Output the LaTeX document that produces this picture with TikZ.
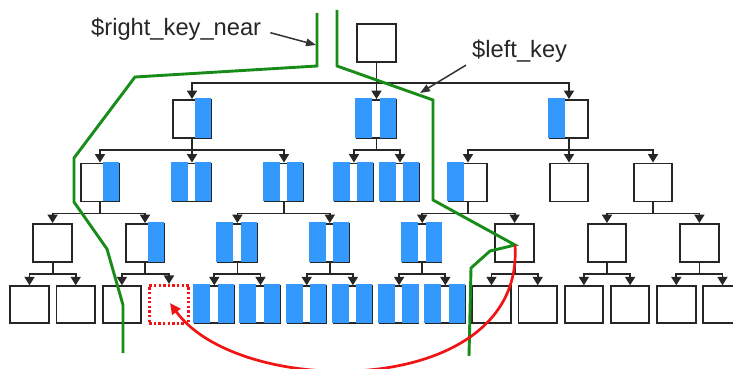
\documentclass[tikz,border=0pt]{standalone}
\usepackage{fontspec}
\setmainfont{Liberation Sans}
\usetikzlibrary{arrows.meta,calc}
\definecolor{kblue}{RGB}{51,153,255}
\definecolor{kgreen}{RGB}{24,140,24}
\definecolor{kred}{RGB}{240,20,20}
\newcommand\lblue[1]{\fill[kblue] ($(#1.north west)+(-1,-1)$) rectangle ($(#1.south west)+(16,-1)$);}
\newcommand\rblue[1]{\fill[kblue] ($(#1.north west)+(23.5,-1)$) rectangle ($(#1.south east)+(-0.8,-1)$);}
\begin{document}
\begin{tikzpicture}[x=1pt,y=-1pt,
  box/.style={rectangle, draw=black!85, line width=1.9pt, minimum width=38.5pt, minimum height=38pt, inner sep=0pt},
  leaf/.style={box, minimum height=36.5pt},
  conn/.style={draw=black!85, line width=1.8pt, line cap=rect},
  arr/.style={draw=black!85, line width=1.8pt, -{Triangle[length=8.5pt,width=10pt]}},
  keyline/.style={draw=kgreen, line width=2.9pt},
  lbl/.style={font=\fontsize{23.7}{27}\selectfont, text=black!85, inner sep=0pt},
  larr/.style={draw=black!80, line width=1.5pt, -{Triangle[length=10pt,width=7.5pt]}}
]
\useasboundingbox (0,0) rectangle (733,369);
\clip (0,0) rectangle (733,369);
% root and level 1
\node[box] (R) at (376.5,43) {};
\node[box] (A1) at (192,119) {};
\node[box] (B1) at (376.5,119) {};
\node[box] (C1) at (569,119) {};
% level 2
\foreach \n/\x in {A/100,B/192,C/284,D/354,E/400,F/468,G/569,H/653}
  {\node[box] (\n) at (\x,182.5) {};}
% level 3
\foreach \j in {0,...,7}
  {\node[box] (m\j) at ({52.6+92.4*\j},243) {};}
% leaves
\foreach \i in {0,1,2,4,5,6,7,8,9,10,11,12,13,14,15}
  {\node[leaf] (l\i) at ({29.5+46.2*\i},304.5) {};}
\node[rectangle, draw=kred, line width=2.6pt, dash pattern=on 2.3pt off 2.3pt,
  minimum width=39.5pt, minimum height=38.5pt, inner sep=0pt] (l3) at (169,304.5) {};
% blue key areas
\rblue{A1}
\lblue{B1}\rblue{B1}
\lblue{C1}
\rblue{A}
\lblue{B}\rblue{B}
\lblue{C}\rblue{C}
\lblue{D}\rblue{D}
\lblue{E}\rblue{E}
\lblue{F}
\rblue{m1}
\lblue{m2}\rblue{m2}
\lblue{m3}\rblue{m3}
\lblue{m4}\rblue{m4}
\foreach \i in {4,...,9} {\lblue{l\i}\rblue{l\i}}
% connectors root
\coordinate (R-b) at ($(R.south)+(0,20)$);
\draw[conn] (R-b -| A1.north) -- (R-b -| C1.north);
\draw[arr] (R.south) -- (B1.north);
\draw[arr] (R-b -| A1.north) -- (A1.north);
\draw[arr] (R-b -| C1.north) -- (C1.north);
% connectors other levels
\foreach \p/\f/\l/\cs in {A1/A/C/{A,B,C}, B1/D/E/{D,E}, C1/F/H/{F,G,H},
    A/m0/m1/{m0,m1}, C/m2/m3/{m2,m3}, F/m4/m5/{m4,m5}, H/m6/m7/{m6,m7},
    m0/l0/l1/{l0,l1}, m1/l2/l3/{l2,l3}, m2/l4/l5/{l4,l5}, m3/l6/l7/{l6,l7},
    m4/l8/l9/{l8,l9}, m5/l10/l11/{l10,l11}, m6/l12/l13/{l12,l13}, m7/l14/l15/{l14,l15}}{
  \coordinate (\p-b) at ($(\p.south)+(0,11)$);
  \draw[conn] (\p.south) -- (\p-b);
  \draw[conn] (\p-b -| \f.north) -- (\p-b -| \l.north);
  \foreach \c in \cs {\draw[arr] (\p-b -| \c.north) -- (\c.north);}
}
% green key lines
\draw[keyline] (317,13) -- (317,66) -- (135,77) -- (74,158) -- (74,202) -- (107,249) -- (123,305) -- (123,353);
\draw[keyline] (337,10) -- (337,66) -- (433,100) -- (433,200) -- (515,245) -- (490,251) -- (471,268) -- (469,356);
% red move arrow
\coordinate (redstart) at (515,245);
\draw[draw=kred, line width=2.7pt, -{Triangle[length=11pt,width=10pt]}]
  (redstart) .. controls (525,400) and (240,400) .. ($(l3.center)+(1,-1.5)$);
% labels
\node[lbl, anchor=base west] (rk) at (91,36) {\$right\_key\_near};
\node[lbl, anchor=base west] (lk) at (472,58) {\$left\_key};
\coordinate (rkTip) at (316,45);
\coordinate (lkTip) at (420,93);
\draw[larr] ($(rk.east)+(9,3)$) -- (rkTip);
\draw[larr] ($(lk.south west)+(-6,2)$) -- (lkTip);
\end{tikzpicture}
\end{document}
